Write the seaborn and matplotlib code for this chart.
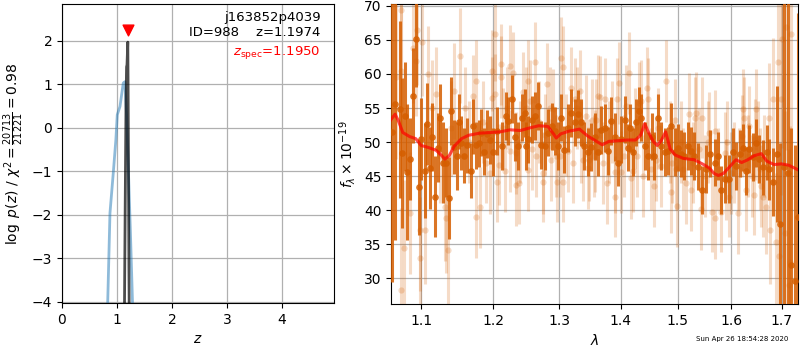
import matplotlib
matplotlib.use("Agg")
import matplotlib.pyplot as plt
import matplotlib.ticker as mticker
import pandas as pd
import seaborn as sns

# ---------------- redshift probability curves ----------------
z_chi2 = [0.83, 0.873, 0.933, 0.98, 1.006, 1.055, 1.115, 1.145, 1.175, 1.206, 1.245, 1.285]
logp_chi2 = [-4.1, -1.96, -1.04, -0.28, 0.30, 0.49, 1.03, 1.06, 0.3, -0.89, -2.4, -4.1]

z_fine = [1.135, 1.150, 1.165, 1.175, 1.183, 1.1974, 1.203, 1.210, 1.218, 1.225]
logp_fine = [-4.5, -1.8, 0.6, 1.4, 1.45, 1.97, 0.9, -1.0, -3.2, -4.5]

z_best = 1.1974
z_spec = 1.1950
logp_marker = 2.25

field_name = "j163852p4039"
obj_id = 988
chi2_num, chi2_den = 20713, 21221

# ---------------- spectrum: binned points (dark) ----------------
wave_dark = [1.062, 1.066, 1.072, 1.075, 1.079, 1.082, 1.086, 1.089, 1.093, 1.097,
             1.100, 1.105, 1.108, 1.112, 1.115, 1.119, 1.123, 1.126, 1.129, 1.134,
             1.138, 1.141, 1.144, 1.149, 1.152, 1.155, 1.159, 1.163, 1.168, 1.171,
             1.175, 1.180, 1.183, 1.187, 1.191, 1.196, 1.200, 1.206, 1.213, 1.219,
             1.222, 1.227, 1.232, 1.237, 1.242, 1.247, 1.249, 1.252, 1.257, 1.262,
             1.267, 1.272, 1.277, 1.282, 1.288, 1.293, 1.298, 1.303, 1.308, 1.314,
             1.319, 1.324, 1.329, 1.335, 1.340, 1.346, 1.351, 1.357, 1.362, 1.367,
             1.373, 1.378, 1.384, 1.390, 1.395, 1.401, 1.407, 1.412, 1.416, 1.421,
             1.426, 1.432, 1.435, 1.441, 1.447, 1.453, 1.458, 1.464, 1.470, 1.476,
             1.482, 1.488, 1.494, 1.500, 1.506, 1.512, 1.518, 1.524, 1.530, 1.536,
             1.544, 1.552, 1.559, 1.568, 1.574, 1.580, 1.587, 1.595, 1.603, 1.609,
             1.616, 1.622, 1.629, 1.635, 1.642, 1.648, 1.655, 1.663, 1.670, 1.675,
             1.682, 1.690, 1.697, 1.706, 1.713, 1.720, 1.727, 1.734]
flux_dark = [51.5, 55.6, 54.8, 48.4, 53.8, 45.6, 47.5, 56.8, 65.1, 43.4,
             50.5, 45.8, 52.7, 46.2, 50.8, 42.0, 49.2, 53.6, 47.0, 47.0,
             41.8, 54.6, 49.3, 48.0, 53.0, 49.9, 48.0, 49.5, 45.8, 52.3,
             49.5, 49.8, 51.4, 48.6, 51.2, 50.3, 48.5, 51.6, 49.4, 53.8,
             53.1, 56.3, 50.7, 49.4, 53.6, 54.3, 49.4, 50.4, 53.3, 53.8,
             55.3, 49.6, 49.4, 51.4, 52.3, 51.6, 49.4, 53.6, 48.9, 52.1,
             54.3, 52.9, 54.1, 52.9, 49.4, 48.5, 49.3, 50.8, 48.5, 51.8,
             52.1, 48.7, 53.1, 50.7, 47.0, 50.4, 53.3, 49.2, 52.1, 48.5,
             52.9, 54.6, 53.6, 49.4, 48.0, 50.8, 48.0, 53.6, 49.4, 48.5,
             48.7, 52.3, 48.5, 49.2, 48.3, 48.0, 49.4, 48.7, 48.0, 46.4,
             43.0, 46.0, 48.3, 47.0, 48.0, 43.0, 44.6, 44.6, 48.5, 46.5,
             48.3, 49.2, 45.8, 49.0, 47.8, 49.9, 47.5, 46.3, 48.5, 46.0,
             44.1, 48.3, 37.9, 46.3, 45.4, 32.0, 29.6, 39.0]
err_dark = [22, 20, 13, 11, 8, 10, 6, 7, 7, 7,
            6, 7, 6, 6, 5, 6, 5, 5, 6, 5,
            6, 5, 4, 5, 4, 4, 4, 4, 4, 4,
            3.5, 3.5, 3.5, 3.5, 3.5, 3.5, 3.5, 3.5, 3.5, 3.5,
            3.5, 3.5, 3.5, 3.5, 3.5, 3.5, 3.5, 3.5, 3.5, 3.5,
            3.5, 3.5, 3.5, 3.5, 3.5, 3.5, 3.5, 3.5, 3.5, 3.5,
            3.5, 3.5, 3.5, 3.5, 3.5, 3.5, 3.5, 3.5, 3.5, 3.5,
            3.5, 3.5, 3.5, 3.5, 3.5, 3.5, 3.5, 3.5, 3.5, 3.5,
            3.5, 3.5, 3.5, 3.5, 3.5, 3.5, 3.5, 3.5, 3.5, 3.5,
            3.5, 3.5, 3.5, 3.5, 3.5, 3.5, 3.5, 3.5, 3.5, 3.5,
            3.5, 3.5, 3.5, 3.5, 3.5, 3.5, 3.5, 3.5, 3.5, 3.5,
            3.5, 3.5, 3.5, 3.5, 3.5, 3.5, 3.5, 4, 4, 4.5,
            5, 10, 12, 25, 25, 20, 20, 30]

# ---------------- spectrum: unbinned points (light) ----------------
wave_light = [1.067, 1.073, 1.073, 1.074, 1.077, 1.086, 1.089, 1.093, 1.094, 1.098,
              1.099, 1.101, 1.105, 1.109, 1.132, 1.134, 1.137, 1.153, 1.171, 1.175,
              1.176, 1.181, 1.195, 1.198, 1.199, 1.202, 1.203, 1.206, 1.209, 1.211,
              1.212, 1.217, 1.2245, 1.225, 1.229, 1.233, 1.234, 1.238, 1.244, 1.252,
              1.252, 1.254, 1.262, 1.264, 1.274, 1.275, 1.281, 1.287, 1.290, 1.297,
              1.3005, 1.303, 1.305, 1.306, 1.313, 1.318, 1.324, 1.332, 1.338, 1.343,
              1.346, 1.348, 1.352, 1.357, 1.359, 1.362, 1.366, 1.370, 1.373, 1.377,
              1.390, 1.391, 1.393, 1.397, 1.401, 1.409, 1.414, 1.418, 1.421, 1.432,
              1.438, 1.445, 1.447, 1.458, 1.461, 1.479, 1.487, 1.494, 1.497, 1.498,
              1.515, 1.521, 1.524, 1.532, 1.534, 1.543, 1.545, 1.558, 1.564, 1.568,
              1.569, 1.580, 1.587, 1.589, 1.596, 1.599, 1.612, 1.620, 1.622, 1.625,
              1.629, 1.635, 1.645, 1.647, 1.649, 1.659, 1.662, 1.669, 1.675, 1.677,
              1.682, 1.689, 1.692, 1.6955, 1.698, 1.701, 1.707, 1.710, 1.716, 1.718,
              1.720,
              1.115, 1.120, 1.125, 1.140, 1.145, 1.160, 1.165, 1.185, 1.190, 1.215,
              1.220, 1.240, 1.248, 1.258, 1.268, 1.278, 1.285, 1.294, 1.310, 1.321,
              1.328, 1.335, 1.355, 1.380, 1.385, 1.405, 1.425, 1.428, 1.435, 1.452,
              1.465, 1.470, 1.485, 1.490, 1.505, 1.510, 1.528, 1.538, 1.550, 1.555,
              1.575, 1.592, 1.605, 1.615, 1.632, 1.640, 1.652, 1.656, 1.665]
flux_light = [59.5, 60.5, 28.3, 69.4, 34.5, 39.6, 63.8, 61.9, 66.4, 33.0,
              37.1, 64.7, 37.1, 60.0, 40.5, 38.8, 34.2, 62.7, 56.8, 59.0,
              39.0, 40.4, 45.5, 60.5, 56.5, 57.0, 65.9, 44.2, 46.7, 59.6,
              61.4, 45.7, 48.7, 61.2, 60.2, 43.7, 48.4, 44.0, 57.3, 59.0,
              45.9, 56.0, 61.7, 47.9, 45.5, 44.2, 58.6, 47.4, 54.8, 44.2,
              47.9, 62.3, 61.0, 44.2, 48.7, 58.0, 56.3, 57.5, 47.4, 53.8,
              46.2, 47.4, 53.3, 48.7, 53.3, 56.8, 56.6, 46.9, 56.3, 44.0,
              42.0, 45.6, 56.3, 58.7, 45.6, 55.3, 60.1, 44.7, 45.7, 55.8,
              45.0, 58.0, 56.3, 43.5, 47.4, 59.0, 42.6, 53.3, 46.0, 40.6,
              44.0, 54.1, 43.0, 53.6, 54.3, 40.1, 53.6, 51.4, 39.8, 38.8,
              51.6, 39.8, 48.4, 44.5, 42.0, 45.5, 39.6, 50.9, 54.8, 53.6,
              43.0, 52.3, 42.3, 50.4, 54.8, 43.5, 42.0, 40.5, 53.6, 37.1,
              56.3, 35.4, 61.8, 33.2, 56.3, 65.2, 36.6, 66.9, 29.0, 32.4,
              65.9,
              55.0, 57.0, 48.0, 52.0, 57.5, 55.0, 50.0, 53.0, 47.0, 52.0,
              55.0, 50.0, 55.0, 49.0, 53.0, 51.0, 55.0, 48.0, 51.0, 47.0,
              55.0, 50.0, 48.0, 50.0, 53.0, 48.0, 52.0, 48.0, 56.0, 46.0,
              52.0, 46.5, 50.0, 47.0, 50.0, 46.0, 47.0, 49.0, 45.0, 50.0,
              46.0, 50.0, 47.0, 46.0, 48.0, 45.0, 50.0, 46.0, 48.0]
err_light = [12, 10, 12, 10, 10, 9, 8, 8, 8, 9,
             9, 8, 8, 7, 8, 8, 8, 7, 6, 6,
             6, 6, 6, 6, 6, 6, 7, 6, 6, 6,
             6, 6, 6, 6, 6, 6, 6, 6, 6, 6,
             6, 6, 6, 6, 6, 6, 6, 6, 6, 6,
             6, 6, 6, 6, 6, 6, 6, 6, 6, 6,
             6, 6, 6, 6, 6, 6, 6, 6, 6, 6,
             6, 6, 6, 6, 6, 6, 6, 6, 6, 6,
             6, 6, 6, 6, 6, 6, 6, 6, 6, 6,
             6, 6, 6, 6, 6, 6, 6, 6, 6, 6,
             6, 6, 6, 6, 6, 6, 6, 6, 6, 6,
             6, 6, 6, 6, 6, 6, 6, 7, 8, 8,
             9, 10, 12, 12, 14, 16, 18, 18, 20, 20,
             20,
             7, 7, 7, 7, 7, 6, 6, 6, 6, 6,
             6, 6, 6, 6, 6, 6, 6, 6, 6, 6,
             6, 6, 6, 6, 6, 6, 6, 6, 6, 6,
             6, 6, 6, 6, 6, 6, 6, 6, 6, 6,
             6, 6, 6, 6, 6, 6, 6, 6, 6]

# ---------------- best-fit model ----------------
wave_model = [1.060, 1.066, 1.070, 1.076, 1.085, 1.093, 1.100, 1.110, 1.120, 1.127,
              1.132, 1.138, 1.145, 1.155, 1.165, 1.180, 1.195, 1.210, 1.225, 1.240,
              1.255, 1.268, 1.282, 1.290, 1.295, 1.302, 1.315, 1.332, 1.345, 1.358,
              1.369, 1.380, 1.395, 1.410, 1.425, 1.434, 1.441, 1.448, 1.456, 1.463,
              1.470, 1.478, 1.486, 1.495, 1.510, 1.530, 1.545, 1.558, 1.567, 1.575,
              1.585, 1.597, 1.609, 1.620, 1.632, 1.645, 1.659, 1.670, 1.685, 1.700,
              1.715, 1.735]
flux_model = [53.2, 54.1, 53.2, 51.4, 50.8, 50.5, 49.5, 49.2, 48.8, 48.1,
              47.5, 48.0, 49.4, 50.5, 51.0, 51.3, 51.4, 51.5, 51.8, 51.7,
              52.1, 52.4, 52.3, 51.3, 50.6, 51.2, 51.6, 51.9, 50.9, 50.2,
              49.6, 50.1, 50.2, 50.3, 50.3, 51.0, 52.7, 51.4, 50.1, 49.5,
              50.2, 51.5, 49.0, 48.1, 47.6, 47.4, 46.8, 46.2, 45.4, 45.1,
              45.4, 46.4, 47.4, 47.0, 47.4, 48.0, 48.3, 47.2, 46.7, 46.8,
              46.6, 45.9]

spec_color = (0.8353, 0.3686, 0.0)

fig = plt.figure(figsize=(8, 3.5), dpi=100)
ax1 = fig.add_axes([0.0775, 0.134, 0.34, 0.855])
ax2 = fig.add_axes([0.489, 0.131, 0.509, 0.858])

# ---- left panel: log p(z) ----
sns.lineplot(x=z_chi2, y=logp_chi2, ax=ax1, color="#1f77b4", alpha=0.5,
             linewidth=2, sort=False, estimator=None)
sns.lineplot(x=z_fine, y=logp_fine, ax=ax1, color="k", alpha=0.7,
             linewidth=2, sort=False, estimator=None)
ax1.scatter([z_spec], [logp_marker], marker="v", color="red", s=60, zorder=10)

ax1.set_xlim(0, 4.95)
ax1.set_ylim(-4.03, 2.85)
ax1.set_xticks([0, 1, 2, 3, 4])
ax1.set_yticks([-4, -3, -2, -1, 0, 1, 2])
ax1.grid(True, color="#b0b0b0", linewidth=0.9)
ax1.set_axisbelow(True)
ax1.set_xlabel(r"$z$")
ax1.set_ylabel(r"$\log\ p(z)$" + " / " +
               r"$\chi^2=\frac{%d}{%d}=%.2f$" % (chi2_num, chi2_den, chi2_num / chi2_den))

ax1.text(0.95, 0.975, field_name, ha="right", va="top",
         transform=ax1.transAxes, fontsize=9.5)
ax1.text(0.95, 0.925, "ID=%d    z=%.4f" % (obj_id, z_best), ha="right", va="top",
         transform=ax1.transAxes, fontsize=9.5)
ax1.text(0.95, 0.865, r"$z_\mathrm{spec}$=%.4f" % z_spec, ha="right", va="top",
         transform=ax1.transAxes, fontsize=9.5, color="red")

# ---- right panel: spectrum ----
ax2.set_xscale("log")
ax2.errorbar(wave_light, flux_light, yerr=err_light, fmt="o", color=spec_color,
             alpha=0.22, markersize=4.5, linewidth=2.2, markeredgewidth=0, zorder=2)
ax2.errorbar(wave_dark, flux_dark, yerr=err_dark, fmt="o", color=spec_color,
             alpha=0.85, markersize=4.8, linewidth=2.2, markeredgewidth=0, zorder=3)

model_df = pd.DataFrame({"wave": wave_model, "flux": flux_model})
sns.lineplot(data=model_df, x="wave", y="flux", ax=ax2, color="red", alpha=0.7,
             linewidth=2.2, sort=False, estimator=None, zorder=5)

ax2.set_xlim(1.061, 1.735)
ax2.set_ylim(26.2, 70.3)
xt = [1.1, 1.2, 1.3, 1.4, 1.5, 1.6, 1.7]
ax2.xaxis.set_major_locator(mticker.FixedLocator(xt))
ax2.xaxis.set_major_formatter(mticker.FixedFormatter(["%.1f" % v for v in xt]))
ax2.xaxis.set_minor_locator(mticker.NullLocator())
ax2.set_yticks([30, 35, 40, 45, 50, 55, 60, 65, 70])
ax2.grid(True, color="#b0b0b0", linewidth=0.9)
ax2.set_axisbelow(True)
ax2.set_xlabel(r"$\lambda$")
ax2.set_ylabel(r"$f_\lambda\times10^{-19}$")

fig.text(0.985, 0.022, "Sun Apr 26 18:54:28 2020", ha="right", va="bottom", fontsize=5)

fig.savefig("out.png", dpi=100)
